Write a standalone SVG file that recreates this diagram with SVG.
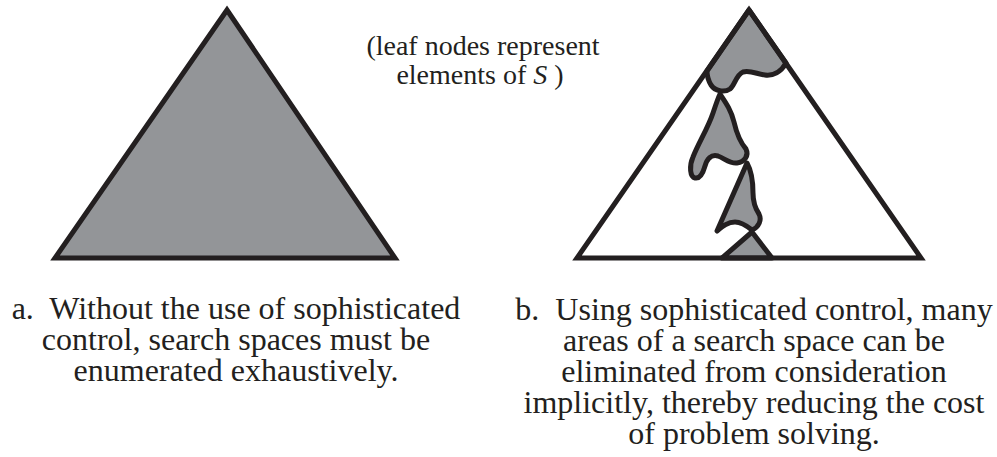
<svg xmlns="http://www.w3.org/2000/svg" width="997" height="457" viewBox="0 0 997 457">
<style>
.t{font-family:'Liberation Serif','DejaVu Serif',serif;font-size:28px;fill:#231f20;text-anchor:middle}
.c{font-size:32px}
.tri{stroke:#231f20;stroke-width:5;stroke-linejoin:miter}
.blob{fill:#939598;stroke:#231f20;stroke-width:5;stroke-linejoin:round}
</style>
<rect width="997" height="457" fill="#fff"/>
<g id="triangle-a">
<path class="tri" d="M227,10 L55,258 L395,258 Z" fill="#939598"/>
</g>
<g id="triangle-b">
<path class="blob" d="M707,71 L749,10 L786,63 C781,72 773,76 765,75 C757,74 750,70 743,72 C736,75 735,85 730,89 C724,93 715,91 711,85 C708,80 707,75 707,71 Z"/>
<path class="blob" d="M720,94 C726,103 731,110 734,122 C737,135 740,142 746,149 C749,155 745,162 737,163 C730,164 724,158 718,156 C711,154 707,159 705,166 C703,173 700,179 695,178 C690,177 689,166 693,157 C699,142 708,128 713,113 C716,104 718,98 720,94 Z"/>
<path class="blob" d="M747,163 C752,172 753,182 753,193 C753,203 755,208 759,214 C762,220 759,227 752,230 C747,226 741,222 735,222 C728,222 723,226 717,231 L747,163 Z"/>
<path class="blob" d="M752,232 L722,258 L772,258 Z"/>
<path class="tri" d="M749,10 L577,258 L921,258 Z" fill="none"/>
</g>
<g id="note">
<text class="t" x="483" y="55">(leaf nodes represent</text>
<text class="t" x="480" y="84">elements of <tspan font-style="italic">S</tspan> )</text>
</g>
<g id="caption-a">
<text class="t c" x="236" y="319" xml:space="preserve">a.  Without the use of sophisticated</text>
<text class="t c" x="236" y="350">control, search spaces must be</text>
<text class="t c" x="236" y="381">enumerated exhaustively.</text>
</g>
<g id="caption-b">
<text class="t c" x="754" y="320" xml:space="preserve">b.  Using sophisticated control, many</text>
<text class="t c" x="754" y="351">areas of a search space can be</text>
<text class="t c" x="754" y="382">eliminated from consideration</text>
<text class="t c" x="754" y="413">implicitly, thereby reducing the cost</text>
<text class="t c" x="754" y="444">of problem solving.</text>
</g>
<g id="connectors"></g>
</svg>
